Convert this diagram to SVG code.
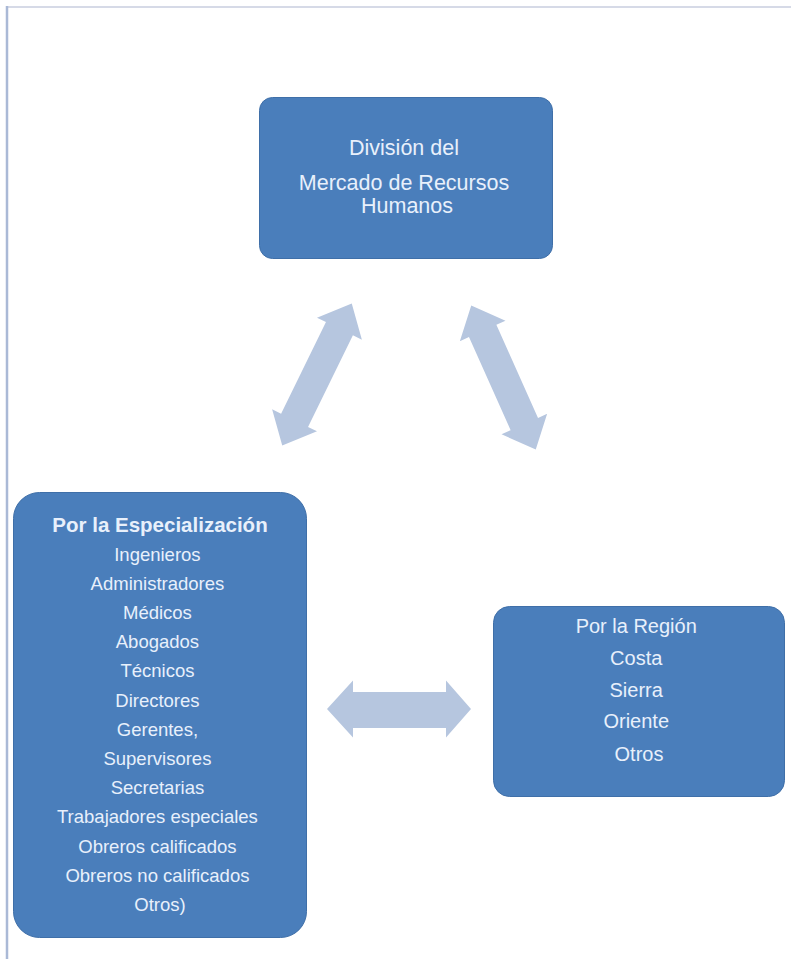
<svg xmlns="http://www.w3.org/2000/svg" width="791" height="959" viewBox="0 0 791 959">
  <style>
    .box { fill: #4a7ebb; stroke: #3f6fa8; stroke-width: 1; }
    .lbl { fill: #e8f0fb; font-family: "Liberation Sans", Arial, sans-serif; text-anchor: middle; }
    .arrow { fill: #b6c6df; }
  </style>
  <defs>
    <!-- double-headed block arrow used for the diagonal links -->
    <path id="dbl" d="M -79 0 L -51 -25 L -51 -15 L 51 -15 L 51 -25 L 79 0 L 51 25 L 51 15 L -51 15 L -51 25 Z"/>
  </defs>

  <rect width="791" height="959" fill="#ffffff"/>
  <!-- page frame -->
  <line x1="6" y1="7" x2="791" y2="7" stroke="#d6dae7" stroke-width="2"/>
  <line x1="7" y1="6" x2="7" y2="959" stroke="#aab9d6" stroke-width="2.5"/>

  <g id="connectors">
    <use href="#dbl" class="arrow" transform="translate(317 374.5) rotate(-63.9)"/>
    <use href="#dbl" class="arrow" transform="translate(503.5 377.5) rotate(65.9)"/>
    <path class="arrow" d="M 327 709 L 353 680.5 L 353 692 L 446 692 L 446 680.5 L 471 709 L 446 737.5 L 446 728 L 353 728 L 353 737.5 Z"/>
  </g>

  <g id="division">
    <rect class="box" x="259.5" y="97.5" width="293" height="161" rx="13"/>
    <text class="lbl" font-size="21.5">
      <tspan x="407" y="155">División del</tspan>
      <tspan x="407" y="190">Mercado de Recursos</tspan>
      <tspan x="407" y="213">Humanos</tspan>
    </text>
  </g>

  <g id="especializacion">
    <rect class="box" x="13.5" y="492.5" width="293" height="445" rx="26"/>
    <text class="lbl" font-size="20.5" font-weight="bold" x="160" y="532">Por la Especialización</text>
    <text class="lbl" font-size="18.5">
      <tspan x="160" y="561">Ingenieros</tspan>
      <tspan x="160" y="590">Administradores</tspan>
      <tspan x="160" y="619">Médicos</tspan>
      <tspan x="160" y="648">Abogados</tspan>
      <tspan x="160" y="677">Técnicos</tspan>
      <tspan x="160" y="707">Directores</tspan>
      <tspan x="160" y="736">Gerentes,</tspan>
      <tspan x="160" y="765">Supervisores</tspan>
      <tspan x="160" y="794">Secretarias</tspan>
      <tspan x="160" y="823">Trabajadores especiales</tspan>
      <tspan x="160" y="853">Obreros calificados</tspan>
      <tspan x="160" y="882">Obreros no calificados</tspan>
      <tspan x="160" y="911">Otros)</tspan>
    </text>
  </g>

  <g id="region">
    <rect class="box" x="493.5" y="606.5" width="291" height="190" rx="16"/>
    <text class="lbl" font-size="20">
      <tspan x="639" y="633">Por la Región</tspan>
      <tspan x="639" y="665">Costa</tspan>
      <tspan x="639" y="697">Sierra</tspan>
      <tspan x="639" y="728">Oriente</tspan>
      <tspan x="639" y="761">Otros</tspan>
    </text>
  </g>
</svg>
